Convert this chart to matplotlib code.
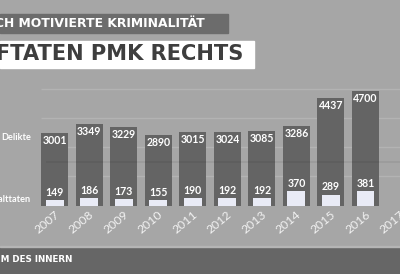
import matplotlib
matplotlib.use("Agg")
import matplotlib.pyplot as plt
from matplotlib.patches import Rectangle
from matplotlib.transforms import ScaledTranslation

years = ["2007", "2008", "2009", "2010", "2011", "2012", "2013", "2014", "2015", "2016"]
tick_labels = years + ["2017"]
delikte = [3001, 3349, 3229, 2890, 3015, 3024, 3085, 3286, 4437, 4700]
gewalt = [149, 186, 173, 155, 190, 192, 192, 370, 289, 381]
grid_vals = [1200, 2400, 3600, 4800]

W, H = 400, 274
BG = "#a6a6a6"
BAR = "#646464"
SMALL = "#e9ebf6"

fig = plt.figure(figsize=(W / 100, H / 100), dpi=100, facecolor=BG)

def fx(x):
    return x / W

def fy(y):
    return 1 - y / H

base_px = 205.5
ax = fig.add_axes([0, fy(base_px), 1, base_px / H])
ax.set_facecolor("none")
ax2 = ax.twinx()
ax2.set_facecolor("none")

spacing = 35.9
c0 = 57.0
ax.set_xlim(-c0 / spacing, (W - c0) / spacing)
ax2.set_xlim(ax.get_xlim())
s1 = 0.0243
s2 = 0.038
ax.set_ylim(0, base_px / s1)
ax2.set_ylim(0, base_px / s2)

xs = list(range(len(years)))
bw = 0.78
sw = 0.52

ax.hlines(grid_vals, -bw / 2, 20, colors="#b3b3b3", linewidth=1, zorder=0)
ax.bar(xs, delikte, width=bw, color=BAR, zorder=2)
ax2.bar(xs, gewalt, width=sw, color=SMALL, zorder=3)
ax.hlines([1800], -0.25, 20, colors="#000000", alpha=0.07, linewidth=1.2, zorder=5)

for x, v in zip(xs, delikte):
    ax.annotate(str(v), (x, v), xytext=(0, -1.5), textcoords="offset points",
                ha="center", va="top", color="white", fontsize=7.6,
                family="Lato", weight="bold", zorder=6)
for x, v in zip(xs, gewalt):
    ax2.annotate(str(v), (x, v), xytext=(0, 1.5), textcoords="offset points",
                 ha="center", va="bottom", color="white", fontsize=7.6,
                 family="Lato", weight="bold", zorder=6)

ax.set_xticks(range(len(tick_labels)))
ax.set_xticklabels(tick_labels, rotation=40, ha="right", va="center", rotation_mode="anchor",
                   color="#f2f2f2", fontsize=8.8, family="Lato")
ax.tick_params(axis="x", length=0, pad=5.5)
shift = ScaledTranslation(3 / 100, 0, fig.dpi_scale_trans)
for lab in ax.get_xticklabels():
    lab.set_transform(lab.get_transform() + shift)
ax.set_yticks([])
ax2.set_yticks([])
for a in (ax, ax2):
    for s in a.spines.values():
        s.set_visible(False)

fig.text(fx(31), fy(137), "Delikte", ha="right", va="center", color="white",
         fontsize=6.6, family="Lato", weight="bold")
fig.text(fx(31), fy(200), "Gewalttaten", ha="right", va="center", color="white",
         fontsize=6.6, family="Lato", weight="bold")

fig.patches.append(Rectangle((0, fy(33)), fx(228), 19 / H, transform=fig.transFigure,
                             color="#6c6c6c", zorder=1))
fig.text(fx(205), fy(23.5), "POLITISCH MOTIVIERTE KRIMINALITÄT", ha="right", va="center",
         color="white", fontsize=8.9, family="DejaVu Sans", weight="bold")
fig.patches.append(Rectangle((0, fy(68)), fx(254), 27 / H, transform=fig.transFigure,
                             color="white", zorder=1))
fig.text(fx(243), fy(54.5), "STRAFTATEN PMK RECHTS", ha="right", va="center",
         color="#3e3e3e", fontsize=15.1, family="DejaVu Sans", weight="bold")

fig.patches.append(Rectangle((0, 0), 1, (H - 247) / H, transform=fig.transFigure,
                             color="#666666", zorder=1))
fig.patches.append(Rectangle((0, fy(247)), 1, 1 / H, transform=fig.transFigure,
                             color="#b5b5b5", zorder=1))
fig.text(fx(72), fy(259.5), "BUNDESMINISTERIUM DES INNERN", ha="right", va="center",
         color="white", fontsize=6.3, family="DejaVu Sans", weight="bold")

fig.savefig("out.png", dpi=100, facecolor=BG)
